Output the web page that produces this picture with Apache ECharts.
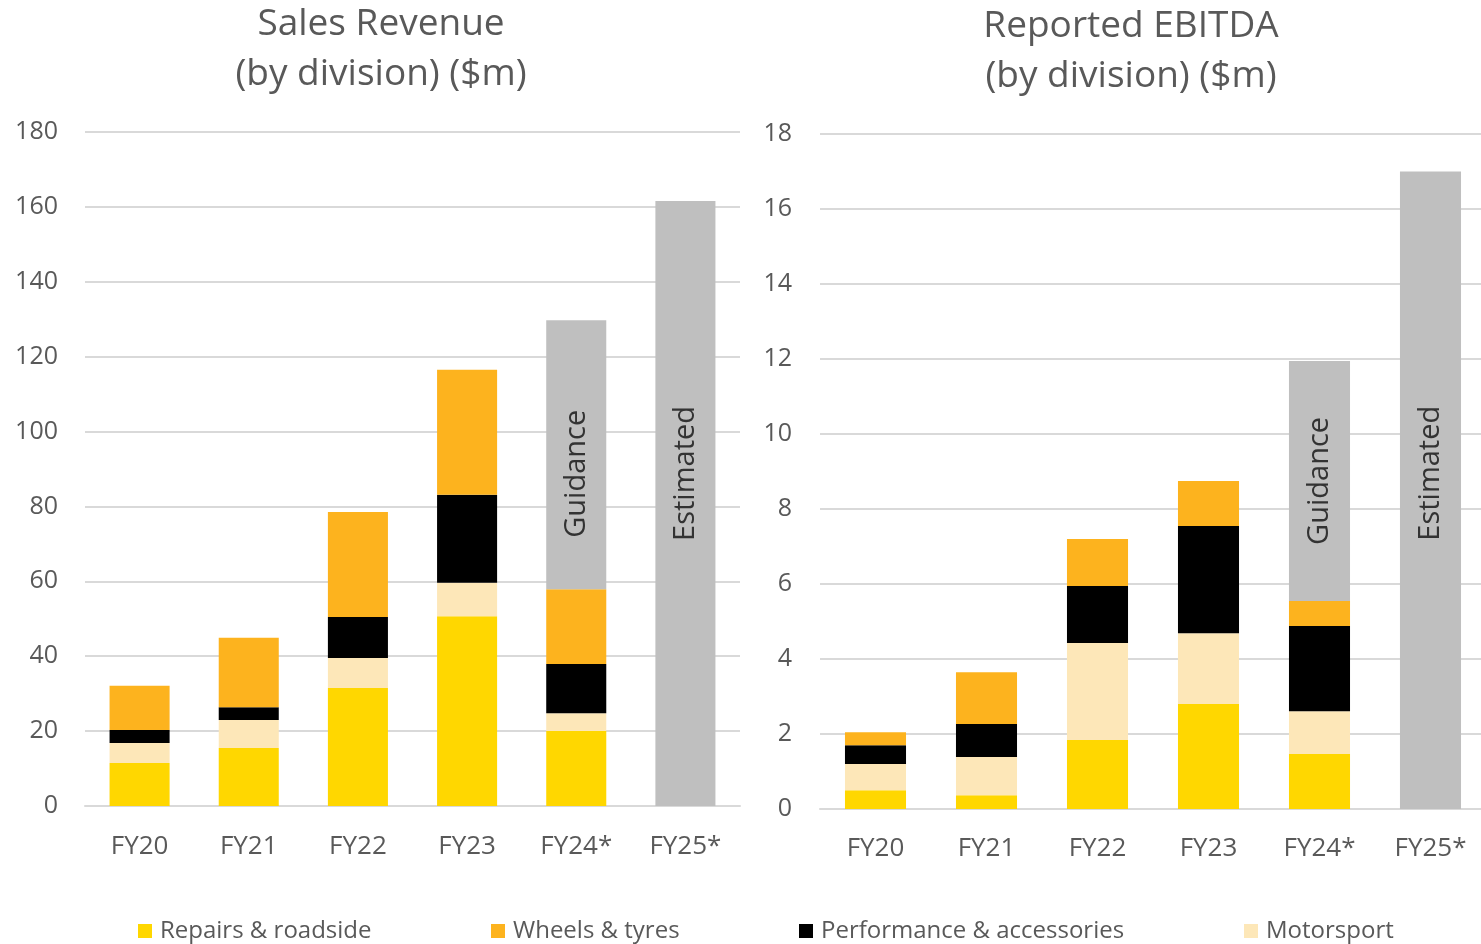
<!DOCTYPE html>
<html>
<head>
<meta charset="utf-8">
<script src="https://cdn.jsdelivr.net/npm/echarts@6/dist/echarts.min.js"></script>
<style>
  html, body { margin: 0; padding: 0; background: #ffffff; }
  #chart { width: 1481px; height: 944px; }
</style>
</head>
<body>
<div id="chart"></div>
<script>
// Financial years
const years = ['FY20', 'FY21', 'FY22', 'FY23', 'FY24*', 'FY25*'];

// Sales revenue by division ($m)
const revRepairs     = [11.5, 15.5, 31.5, 50.7, 20.0, null];
const revMotorsport  = [5.3, 7.5, 8.0, 8.9, 4.8, null];
const revPerformance = [3.5, 3.4, 11.0, 23.5, 13.1, null];
const revWheels      = [11.8, 18.5, 28.0, 33.4, 20.0, null];
const revOutlook     = [null, null, null, null, 71.8, 161.6];

// Reported EBITDA by division ($m)
const ebRepairs     = [0.5, 0.37, 1.84, 2.8, 1.47, null];
const ebMotorsport  = [0.7, 1.02, 2.59, 1.89, 1.14, null];
const ebPerformance = [0.5, 0.88, 1.52, 2.86, 2.27, null];
const ebWheels      = [0.35, 1.38, 1.25, 1.2, 0.67, null];
const ebOutlook     = [null, null, null, null, 6.4, 17.0];

// Text drawn on the outlook bars
const outlookLabels = ['', '', '', '', 'Guidance', 'Estimated'];

const divisionNames = ['Repairs & roadside', 'Wheels & tyres', 'Performance & accessories', 'Motorsport'];

const COLORS = {
  'Repairs & roadside': '#FFD700',
  'Wheels & tyres': '#FDB31E',
  'Performance & accessories': '#000000',
  'Motorsport': '#FDE7B8',
  outlook: '#BFBFBF'
};

const FONT = '"Open Sans", "Noto Sans", sans-serif';
const TEXT = '#595959';
const GRIDLINE = '#D9D9D9';

function stackSeries(idx, stack, repairs, motorsport, performance, wheels, outlook, labelOffsets) {
  const mk = (name, data) => ({
    name, type: 'bar', stack, data,
    xAxisIndex: idx, yAxisIndex: idx,
    barWidth: '55%',
    itemStyle: { color: COLORS[name] },
    emphasis: { disabled: true }
  });
  const grey = {
    name: 'Outlook', type: 'bar', stack, xAxisIndex: idx, yAxisIndex: idx,
    barWidth: '55%',
    itemStyle: { color: COLORS.outlook },
    emphasis: { disabled: true },
    data: outlook.map((v, i) => ({
      value: v,
      label: {
        show: outlookLabels[i] !== '',
        formatter: outlookLabels[i],
        position: 'inside',
        rotate: 90,
        // offset is in the rotated frame: +x moves the text up the bar
        offset: labelOffsets[i],
        color: '#333333',
        fontFamily: FONT,
        fontSize: 29
      }
    }))
  };
  return [
    mk('Repairs & roadside', repairs),
    mk('Motorsport', motorsport),
    mk('Performance & accessories', performance),
    mk('Wheels & tyres', wheels),
    grey
  ];
}

const xLabelStyle = { color: TEXT, fontFamily: FONT, fontSize: 26 };
const yLabelStyle = { color: TEXT, fontFamily: FONT, fontSize: 25 };

const legendLefts = [138, 491, 799, 1244];

const titleStyle = { color: TEXT, fontFamily: FONT, fontSize: 37, fontWeight: 'normal', lineHeight: 50 };

const option = {
  animation: false,
  backgroundColor: '#ffffff',
  textStyle: { fontFamily: FONT },
  title: [
    { text: 'Sales Revenue\n(by division) ($m)', left: 381, top: -1, padding: 0, textAlign: 'center', textStyle: titleStyle },
    { text: 'Reported EBITDA\n(by division) ($m)', left: 1131, top: 1, padding: 0, textAlign: 'center', textStyle: titleStyle }
  ],
  legend: divisionNames.map((n, i) => ({
    data: [n],
    left: legendLefts[i],
    top: 919,
    padding: 0,
    icon: 'rect',
    itemWidth: 14,
    itemHeight: 14,
    itemGap: 10,
    selectedMode: false,
    textStyle: { color: TEXT, fontFamily: FONT, fontSize: 24, padding: [0, 0, 0, 3] }
  })),
  grid: [
    { left: 85, width: 655, top: 132, bottom: 138, outerBoundsMode: 'none' },
    { left: 820, width: 666, top: 134, bottom: 135, outerBoundsMode: 'none' }
  ],
  xAxis: [
    {
      type: 'category', gridIndex: 0, data: years,
      axisLine: { lineStyle: { color: GRIDLINE, width: 2 } },
      axisTick: { show: false },
      axisLabel: Object.assign({ margin: 28 }, xLabelStyle)
    },
    {
      type: 'category', gridIndex: 1, data: years,
      axisLine: { lineStyle: { color: GRIDLINE, width: 2 } },
      axisTick: { show: false },
      axisLabel: Object.assign({ margin: 27 }, xLabelStyle)
    }
  ],
  yAxis: [
    {
      type: 'value', gridIndex: 0, min: 0, max: 180, interval: 20,
      axisLine: { show: false }, axisTick: { show: false },
      axisLabel: Object.assign({ margin: 27 }, yLabelStyle),
      splitLine: { lineStyle: { color: GRIDLINE, width: 2 } }
    },
    {
      type: 'value', gridIndex: 1, min: 0, max: 18, interval: 2,
      axisLine: { show: false }, axisTick: { show: false },
      axisLabel: Object.assign({ margin: 28 }, yLabelStyle),
      splitLine: { lineStyle: { color: GRIDLINE, width: 2 } }
    }
  ],
  series: [
    ...stackSeries(0, 'rev', revRepairs, revMotorsport, revPerformance, revWheels, revOutlook,
      [null, null, null, null, [-19, 0], [30, 0]]),
    ...stackSeries(1, 'eb', ebRepairs, ebMotorsport, ebPerformance, ebWheels, ebOutlook,
      [null, null, null, null, [0, 0], [17, 0]])
  ]
};

const chart = echarts.init(document.getElementById('chart'), null, { renderer: 'canvas' });
chart.setOption(option);
</script>
</body>
</html>
